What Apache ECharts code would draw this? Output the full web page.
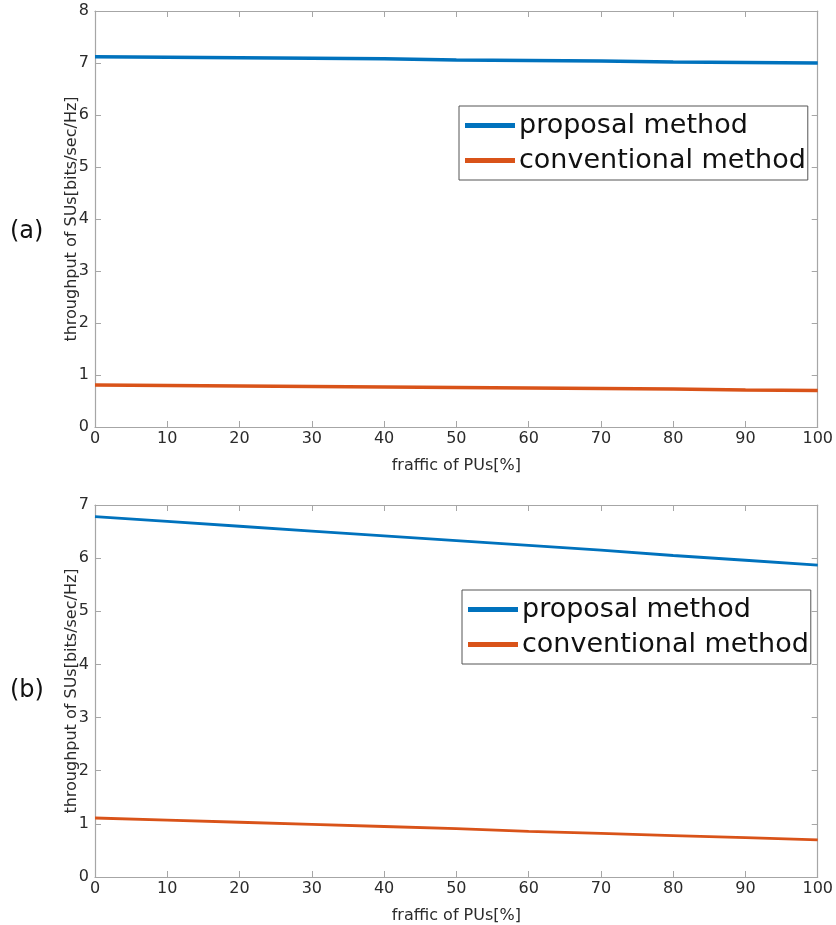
<!DOCTYPE html>
<html><head><meta charset="utf-8">
<script src="https://cdn.jsdelivr.net/npm/echarts@6/dist/echarts.min.js"></script>
<style>html,body{margin:0;padding:0;background:#fff;overflow:hidden}#c{width:836px;height:925px}</style>
</head><body><div id="c"></div>
<script>
const xValues = [0, 10, 20, 30, 40, 50, 60, 70, 80, 90, 100];
const proposalA = [7.12, 7.11, 7.10, 7.09, 7.08, 7.06, 7.05, 7.04, 7.02, 7.01, 7.00];
const conventionalA = [0.81, 0.80, 0.79, 0.78, 0.77, 0.76, 0.75, 0.74, 0.73, 0.71, 0.70];
const proposalB = [6.78, 6.69, 6.60, 6.51, 6.42, 6.33, 6.24, 6.15, 6.05, 5.96, 5.87];
const conventionalB = [1.11, 1.07, 1.03, 0.99, 0.95, 0.91, 0.86, 0.82, 0.78, 0.74, 0.70];
const seriesNames = ['proposal method', 'conventional method'];
const yMaxA = 8, yMaxB = 7;
const xLabel = 'fraffic of PUs[%]';
const yLabel = 'throughput of SUs[bits/sec/Hz]';

const BLUE = '#0072BD', ORANGE = '#D95319', AX = '#a6a6a6', TXT = '#2b2b2b';
const font = 'DejaVu Sans, Verdana, sans-serif';

function xAx(gi, bottom) {
  return {
    type: 'value', gridIndex: gi, min: 0, max: 100, interval: 10,
    position: bottom ? 'bottom' : 'top',
    name: bottom ? xLabel : '', nameLocation: 'middle', nameGap: 31,
    nameMoveOverlap: false,
    nameTextStyle: {fontSize: 16, color: TXT, fontFamily: font},
    axisLine: {show: true, onZero: false, lineStyle: {color: AX, width: 1.2}},
    axisTick: {show: true, inside: true, length: 6, lineStyle: {color: AX}},
    axisLabel: {show: bottom, fontSize: 16, color: TXT, margin: 4, fontFamily: font},
    splitLine: {show: false}
  };
}
function yAx(gi, max, left) {
  return {
    type: 'value', gridIndex: gi, min: 0, max: max, interval: 1,
    position: left ? 'left' : 'right',
    name: left ? yLabel : '', nameLocation: 'middle', nameGap: 15,
    nameMoveOverlap: false,
    nameTextStyle: {fontSize: 16, color: TXT, fontFamily: font},
    axisLine: {show: true, onZero: false, lineStyle: {color: AX, width: 1.2}},
    axisTick: {show: true, inside: true, length: 6, lineStyle: {color: AX}},
    axisLabel: {show: left, fontSize: 16, color: TXT, margin: 6, fontFamily: font},
    splitLine: {show: false}
  };
}
function mk(name, data, xi, yi, color, w) {
  return {
    name: name, type: 'line', xAxisIndex: xi, yAxisIndex: yi,
    data: xValues.map((x, i) => [x, data[i]]),
    showSymbol: false, symbol: 'none', lineStyle: {color: color, width: w},
    itemStyle: {color: color}
  };
}
function leg(left, top) {
  return {
    data: seriesNames, orient: 'vertical', left: left, top: top,
    icon: 'rect', itemWidth: 50, itemHeight: 5, itemGap: 2,
    borderColor: '#555', borderWidth: 1, padding: [3, 2, 3, 6],
    backgroundColor: '#fff',
    textStyle: {fontSize: 27, color: '#111', fontFamily: font, padding: [0, 0, 0, -1], lineHeight: 33},
    selectedMode: false
  };
}

const chart = echarts.init(document.getElementById('c'), null, {renderer: 'canvas'});
chart.setOption({
  animation: false,
  backgroundColor: '#fff',
  grid: [
    {left: 95, top: 11, width: 728, height: 416},
    {left: 95, top: 505, width: 728, height: 378}
  ],
  xAxis: [xAx(0, true), xAx(0, false), xAx(1, true), xAx(1, false)],
  yAxis: [yAx(0, yMaxA, true), yAx(0, yMaxA, false), yAx(1, yMaxB, true), yAx(1, yMaxB, false)],
  legend: [leg(459, 106), leg(462, 590)],
  series: [
    mk(seriesNames[0], proposalA, 0, 0, BLUE, 3.5),
    mk(seriesNames[1], conventionalA, 0, 0, ORANGE, 3.5),
    mk(seriesNames[0], proposalB, 2, 2, BLUE, 2.8),
    mk(seriesNames[1], conventionalB, 2, 2, ORANGE, 2.8)
  ],
  graphic: [
    {type: 'text', left: 10, top: 220, style: {text: '(a)', fontSize: 24, fill: '#111', fontFamily: font}},
    {type: 'text', left: 10, top: 679, style: {text: '(b)', fontSize: 24, fill: '#111', fontFamily: font}}
  ]
});
</script></body></html>
